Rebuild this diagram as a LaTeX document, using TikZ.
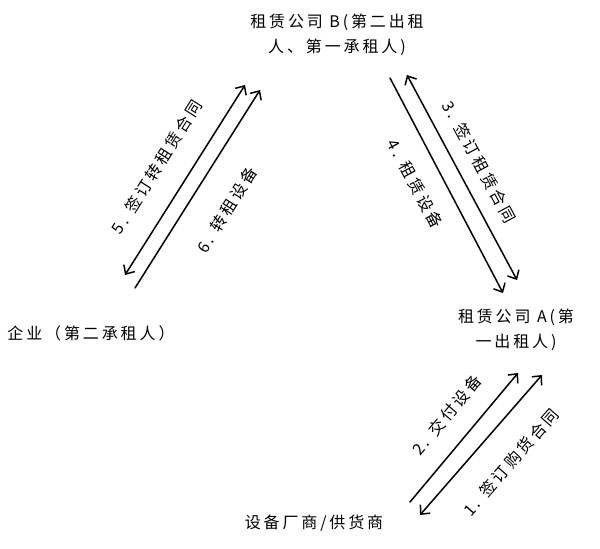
\documentclass[tikz,border=0pt]{standalone}
\usepackage{fontspec}
\setmainfont{Noto Sans CJK SC}[LetterSpace=18]
\usetikzlibrary{arrows.meta}
\begin{document}
\begin{tikzpicture}[x=0.5pt,y=-0.5pt,>={Straight Barb[length=3.5pt,width=6.5pt]}, font=\fontsize{8}{12.5}\selectfont, line join=round, line cap=round]
	\useasboundingbox (0,0) rectangle (600,549);
	\tikzset{party/.style={align=center,inner sep=0pt}, tag/.style={inner sep=0pt}}
	\node[party] (B) at (337,35) {租赁公司 B(第二出租\\人、第一承租人)};
	\node[party] (A) at (516,330) {租赁公司 A(第\\一出租人)};
	\node[party] (E) at (91,333) {企业（第二承租人）};
	\node[party] (S) at (314,523) {设备厂商/供货商};
	\coordinate (e5) at (125,275); \coordinate (b5) at (245,85);
	\coordinate (e6) at (135,288); \coordinate (b6) at (260,90);
	\coordinate (b3) at (407,75);  \coordinate (a3) at (517,280);
	\coordinate (b4) at (390,78);  \coordinate (a4) at (503,293);
	\coordinate (s2) at (410,502); \coordinate (a2) at (518,373);
	\coordinate (s1) at (420,515); \coordinate (a1) at (542,375);
	\foreach \p/\q/\t in {e5/b5/<->, e6/b6/->, b3/a3/<->, b4/a4/->, s2/a2/->, s1/a1/<->}
	\draw[\t, line width=0.75pt] (\p)--(\q);
	\node[tag, rotate=57.7] (l5) at (157,167) {5. 签订转租赁合同};
	\node[tag, rotate=57.7] (l6) at (227,210) {6. 转租设备};
	\node[tag, rotate=-61.8] (l3) at (479,162) {3. 签订租赁合同};
	\node[tag, rotate=-61.8] (l4) at (415,184) {4. 租赁设备};
	\node[tag, rotate=50] (l2) at (447,415) {2. 交付设备};
	\node[tag, rotate=49] (l1) at (511,462) {1. 签订购货合同};
\end{tikzpicture}
\end{document}
